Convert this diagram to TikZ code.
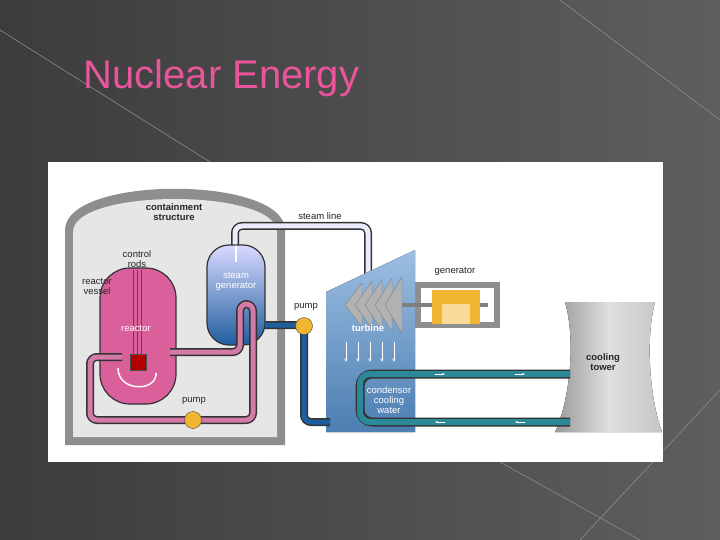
\documentclass[tikz,border=0pt]{standalone}
\usepackage{fontspec}
\setmainfont{Liberation Sans}
\usetikzlibrary{arrows.meta,positioning,calc}
\definecolor{bgleft}{HTML}{3C3C3C}
\definecolor{bgright}{HTML}{5E5E5E}
\definecolor{titlepink}{HTML}{E8559A}
\definecolor{wallgray}{HTML}{8E8E8E}
\definecolor{roomgray}{HTML}{E6E6E6}
\definecolor{reactpink}{HTML}{D9609B}
\definecolor{pipepink}{HTML}{D37AA8}
\definecolor{pipeblue}{HTML}{1F5E9E}
\definecolor{pipeteal}{HTML}{2A8A9A}
\definecolor{vesselblue}{HTML}{5B93CF}
\definecolor{pumpyellow}{HTML}{F2B530}
\tikzset{
  label/.style={font=\fontsize{9.5}{10}\selectfont, align=center, text=black!85},
  wlabel/.style={font=\fontsize{9.5}{10}\selectfont, align=center, text=white},
  pump/.style={circle, draw=black!70, fill=pumpyellow, minimum size=17pt, inner sep=0pt},
  pipeout/.style={line width=8pt, draw=black!80, rounded corners=7pt},
  pipein/.style={line width=5pt, rounded corners=7pt},
  flow/.style={-{Stealth[length=3pt]}, white, line width=0.6pt}
}
\begin{document}
\begin{tikzpicture}[x=1pt,y=-1pt]
\useasboundingbox (0,0) rectangle (720,540);
% background
\fill[left color=bgleft, right color=bgright] (0,0) rectangle (720,540);
\draw[black!45, line width=0.6pt] (0,30) -- (210,162) (560,0) -- (720,120) (720,390) -- (580,540) (500,462) -- (640,540);
\node[titlepink, font=\fontsize{40}{40}\selectfont, anchor=west] (title) at (80,78) {Nuclear Energy};
% picture panel
\fill[white] (48,162) rectangle (663,462);
% containment structure
\fill[wallgray] (65,445) -- (65,230) .. controls (65,175) and (285,175) .. (285,230) -- (285,445) -- cycle;
\fill[roomgray] (73,437) -- (73,232) .. controls (73,188) and (277,188) .. (277,232) -- (277,437) -- cycle;
% steam line
\draw[pipeout] (235,250) -- (235,226) -- (368,226) -- (368,292);
\draw[pipein, draw=blue!8] (235,250) -- (235,226) -- (368,226) -- (368,292);
% reactor vessel and steam generator
\node[draw=black!80, line width=1.2pt, fill=reactpink, rounded corners=30pt, minimum width=76pt, minimum height=136pt] (vessel) at (138,336) {};
\node[draw=black!80, line width=1.2pt, top color=blue!15, bottom color=pipeblue, rounded corners=22pt, minimum width=58pt, minimum height=100pt] (sg) at (236,295) {};
\foreach \dx in {-4,0,4}
  \draw[black!70, line width=1pt] (137+\dx,270) -- (137+\dx,360);
\node[draw=black!70, fill=red!70!black, minimum size=16pt, inner sep=0pt] (core) at (138,362) {};
\draw[flow, white!90!pink, line width=1.5pt] (118,368) .. controls (118,392) and (156,392) .. (156,372);
\draw[-{Stealth[length=4pt]}, white, line width=1.2pt] (236,262) -- (236,245);
% pink primary loop
\draw[pipeout] (170,352) -- (240,352) -- (240,304) -- (253,304) -- (253,420) -- (90,420) -- (90,357) -- (122,357);
\draw[pipein, draw=pipepink] (170,352) -- (240,352) -- (240,304) -- (253,304) -- (253,420) -- (90,420) -- (90,357) -- (122,357);
\node[pump] (pumpA) at (193,420) {};
% turbine
\fill[top color=vesselblue!60, bottom color=pipeblue!80] (326,292) -- (415,250) -- (415,432) -- (326,432) -- cycle;
% generator housing
\fill[wallgray] (415,282) rectangle (500,328);
\fill[white] (421,288) rectangle (494,322);
\draw[gray, line width=4pt] (390,305) -- (488,305);
\fill[pumpyellow] (432,290) rectangle (480,324);
\fill[pumpyellow!50] (442,304) rectangle (470,324);
\foreach \i in {0,1,2,3,4}
  \fill[gray!60, draw=black!50] (345+\i*10,305) -- (362+\i*10,283-\i*1.5) -- (362+\i*10,327+\i*1.5) -- cycle;
\foreach \x in {346,358,370,382,394}
  \draw[-{Stealth[length=4pt]}, white, line width=1pt] (\x,342) -- (\x,362);
% secondary feed with pump
\draw[pipeout] (265,325) -- (304,325) -- (304,422) -- (330,422);
\draw[pipein, draw=pipeblue] (265,325) -- (304,325) -- (304,422) -- (330,422);
\node[pump] (pumpB) at (304,326) {};
% cooling tower
\fill[left color=gray!80, right color=gray!45, middle color=gray!25] (565,302) -- (655,302) .. controls (645,340) and (650,400) .. (662,432) -- (555,432) .. controls (570,400) and (576,340) .. (565,302) -- cycle;
% cooling water loop
\draw[line width=9pt, draw=black!80, rounded corners=12pt] (570,374) -- (360,374) -- (360,422) -- (570,422);
\draw[line width=6pt, draw=pipeteal, rounded corners=10pt] (570,374) -- (360,374) -- (360,422) -- (570,422);
\foreach \x in {440,520} \draw[flow] (\x-5,374) -- (\x+5,374);
\foreach \x in {440,520} \draw[flow] (\x+5,422) -- (\x-5,422);
% labels
\node[label, font=\fontsize{9.5}{10}\bfseries] (lcont) at (174,212) {containment\\structure};
\node[label] (lsteam) at (320,216) {steam line};
\node[label] (lrods) at (137,259) {control\\rods};
\node[label] (lvessel) at (97,286) {reactor\\vessel};
\node[wlabel] (lsg) at (236,281) {steam\\generator};
\node[wlabel] (lreactor) at (136,328) {reactor};
\node[label] (lpumpA) at (194,401) {pump};
\node[label] (lpumpB) at (306,307) {pump};
\node[label] (lgen) at (455,271) {generator};
\node[wlabel, font=\fontsize{9.5}{10}\bfseries] (lturb) at (368,328) {turbine};
\node[label, font=\fontsize{9.5}{10}\bfseries] (ltower) at (603,362) {cooling\\tower};
\node[wlabel] (lcond) at (389,400) {condensor\\cooling\\water};
\end{tikzpicture}
\end{document}
